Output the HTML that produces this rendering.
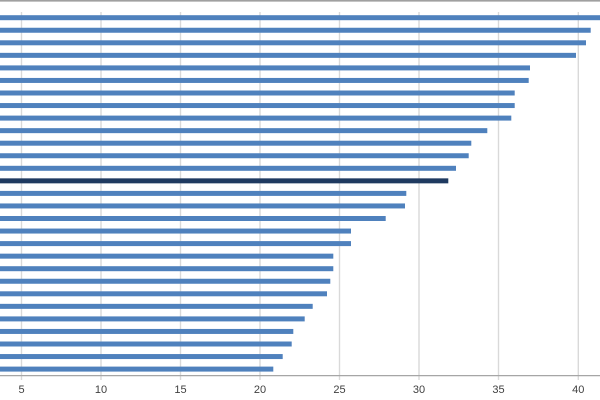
<!DOCTYPE html>
<html>
<head>
<meta charset="utf-8">
<style>
  html,body{margin:0;padding:0;background:#fff;}
  svg{display:block;}
  text{font-family:"Liberation Sans",sans-serif;font-size:11px;fill:#404040;}
</style>
</head>
<body>
<svg width="600" height="400" viewBox="0 0 600 400" xmlns="http://www.w3.org/2000/svg">
  <rect x="0" y="0" width="600" height="400" fill="#fff"/>
  <line x1="0" y1="0.8" x2="600" y2="0.8" stroke="#a0a0a0" stroke-width="1.6"/>
  <g stroke="#d9d9d9" stroke-width="1.4">
    <line x1="21.5" y1="12" x2="21.5" y2="380"/>
    <line x1="101" y1="12" x2="101" y2="380"/>
    <line x1="180.5" y1="12" x2="180.5" y2="380"/>
    <line x1="260" y1="12" x2="260" y2="380"/>
    <line x1="339.5" y1="12" x2="339.5" y2="380"/>
    <line x1="419" y1="12" x2="419" y2="380"/>
    <line x1="498.5" y1="12" x2="498.5" y2="380"/>
    <line x1="578.3" y1="12" x2="578.3" y2="380"/>
  </g>
  <g fill="#4f81bd">
    <rect x="0" y="15.2" width="600" height="5"/>
    <rect x="0" y="27.75" width="590.7" height="5"/>
    <rect x="0" y="40.3" width="586" height="5"/>
    <rect x="0" y="52.85" width="576" height="5"/>
    <rect x="0" y="65.4" width="530" height="5"/>
    <rect x="0" y="77.95" width="528.7" height="5"/>
    <rect x="0" y="90.5" width="514.7" height="5"/>
    <rect x="0" y="103.05" width="514.7" height="5"/>
    <rect x="0" y="115.6" width="511.3" height="5"/>
    <rect x="0" y="128.15" width="487.3" height="5"/>
    <rect x="0" y="140.7" width="471.3" height="5"/>
    <rect x="0" y="153.25" width="468.7" height="5"/>
    <rect x="0" y="165.8" width="456" height="5"/>
    <rect x="0" y="178.35" width="448.3" height="5" fill="#1f3a60"/>
    <rect x="0" y="190.9" width="406.3" height="5"/>
    <rect x="0" y="203.45" width="405" height="5"/>
    <rect x="0" y="216" width="385.7" height="5"/>
    <rect x="0" y="228.55" width="351" height="5"/>
    <rect x="0" y="241.1" width="351" height="5"/>
    <rect x="0" y="253.65" width="333.3" height="5"/>
    <rect x="0" y="266.2" width="333.3" height="5"/>
    <rect x="0" y="278.75" width="330.3" height="5"/>
    <rect x="0" y="291.3" width="327" height="5"/>
    <rect x="0" y="303.85" width="312.7" height="5"/>
    <rect x="0" y="316.4" width="304.7" height="5"/>
    <rect x="0" y="328.95" width="293.3" height="5"/>
    <rect x="0" y="341.5" width="291.7" height="5"/>
    <rect x="0" y="354.05" width="282.7" height="5"/>
    <rect x="0" y="366.6" width="273.3" height="5"/>
  </g>
  <line x1="0" y1="375.6" x2="600" y2="375.6" stroke="#a6a6a6" stroke-width="1.2"/>
  <g text-anchor="middle">
    <text x="21.5" y="393">5</text>
    <text x="101" y="393">10</text>
    <text x="180.5" y="393">15</text>
    <text x="260" y="393">20</text>
    <text x="339.5" y="393">25</text>
    <text x="419" y="393">30</text>
    <text x="498.5" y="393">35</text>
    <text x="578.3" y="393">40</text>
  </g>
</svg>
</body>
</html>
